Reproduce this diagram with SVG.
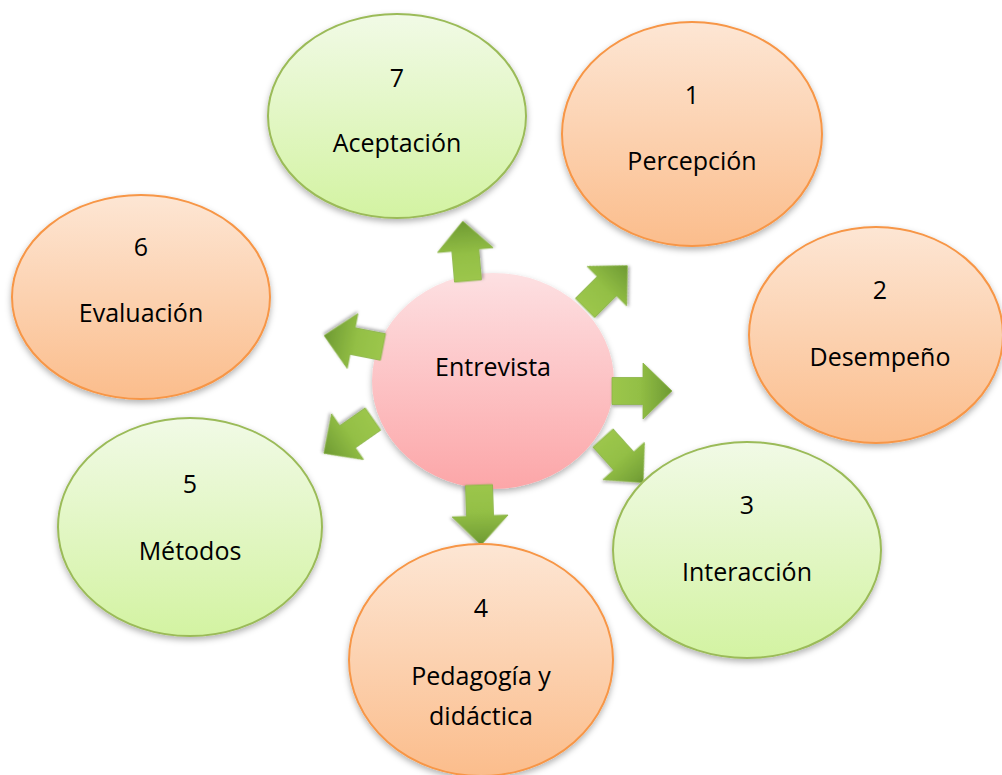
<svg xmlns="http://www.w3.org/2000/svg" width="1002" height="775" viewBox="0 0 1002 775">
  <defs>
    <linearGradient id="gGreen" x1="0" y1="0" x2="0" y2="1">
      <stop offset="0" stop-color="#f1fae6"/>
      <stop offset="1" stop-color="#d3f3a2"/>
    </linearGradient>
    <linearGradient id="gOrange" x1="0" y1="0" x2="0" y2="1">
      <stop offset="0" stop-color="#fde6d4"/>
      <stop offset="1" stop-color="#fbbd8c"/>
    </linearGradient>
    <linearGradient id="gPink" x1="0" y1="0" x2="0" y2="1">
      <stop offset="0" stop-color="#fde0e2"/>
      <stop offset="1" stop-color="#fca6a8"/>
    </linearGradient>
    <linearGradient id="gArrow" gradientUnits="userSpaceOnUse" x1="0" y1="0" x2="60" y2="0">
      <stop offset="0" stop-color="#9cc64c"/>
      <stop offset="0.45" stop-color="#93bf45"/>
      <stop offset="1" stop-color="#6e9a33"/>
    </linearGradient>
    <filter id="shadow" x="-20%" y="-20%" width="140%" height="150%">
      <feDropShadow dx="0" dy="3" stdDeviation="3" flood-color="#000" flood-opacity="0.3"/>
    </filter>
    <filter id="ashadow" x="-30%" y="-30%" width="160%" height="160%">
      <feDropShadow dx="1" dy="2" stdDeviation="1.5" flood-color="#000" flood-opacity="0.3"/>
    </filter>
    <path id="arrow" d="M0,-13.5 L31,-13.5 L31,-28 L60,0 L31,28 L31,13.5 L0,13.5 Z"/>
  </defs>
  <style>
    .green { fill: url(#gGreen); stroke: #9bbb59; stroke-width: 2; filter: url(#shadow); }
    .orange { fill: url(#gOrange); stroke: #f79646; stroke-width: 2; filter: url(#shadow); }
    .center { fill: url(#gPink); filter: url(#shadow); }
    .arr { fill: url(#gArrow); stroke: #8ab446; stroke-width: 0.8; filter: url(#ashadow); }
    text { font-family: "Open Sans", Lato, "Liberation Sans", sans-serif; font-size: 25px; fill: #000; text-anchor: middle; }
  </style>

  <!-- central node -->
  <g id="node-entrevista">
    <ellipse class="center" cx="493" cy="381" rx="121" ry="108"/>
    <text x="493" y="376">Entrevista</text>
  </g>

  <!-- block arrows radiating from the centre -->
  <g id="connectors">
    <use href="#arrow" class="arr" transform="translate(468,281) rotate(-95)"/>
    <use href="#arrow" class="arr" transform="translate(585,308) rotate(-45)"/>
    <use href="#arrow" class="arr" transform="translate(612,391) rotate(0)"/>
    <use href="#arrow" class="arr" transform="translate(603,438) rotate(48)"/>
    <use href="#arrow" class="arr" transform="translate(479,485) rotate(88)"/>
    <use href="#arrow" class="arr" transform="translate(373,419) rotate(145)"/>
    <use href="#arrow" class="arr" transform="translate(383,347) rotate(191)"/>
  </g>

  <g id="node-7">
    <ellipse class="green" cx="397" cy="116" rx="129" ry="102"/>
    <text x="397" y="87">7</text>
    <text x="397" y="152">Aceptación</text>
  </g>

  <g id="node-1">
    <ellipse class="orange" cx="692" cy="134" rx="130" ry="112"/>
    <text x="692" y="104">1</text>
    <text x="692" y="170">Percepción</text>
  </g>

  <g id="node-2">
    <ellipse class="orange" cx="876" cy="335" rx="127" ry="108"/>
    <text x="880" y="299">2</text>
    <text x="880" y="366">Desempeño</text>
  </g>

  <g id="node-3">
    <ellipse class="green" cx="747" cy="550" rx="134" ry="108"/>
    <text x="747" y="514">3</text>
    <text x="747" y="581">Interacción</text>
  </g>

  <g id="node-4">
    <ellipse class="orange" cx="481" cy="660" rx="132" ry="116"/>
    <text x="481" y="617">4</text>
    <text x="481" y="685">Pedagogía y</text>
    <text x="481" y="725">didáctica</text>
  </g>

  <g id="node-5">
    <ellipse class="green" cx="190" cy="527" rx="132" ry="109"/>
    <text x="190" y="493">5</text>
    <text x="190" y="560">Métodos</text>
  </g>

  <g id="node-6">
    <ellipse class="orange" cx="141" cy="297" rx="129" ry="102"/>
    <text x="141" y="256">6</text>
    <text x="141" y="322">Evaluación</text>
  </g>
</svg>
